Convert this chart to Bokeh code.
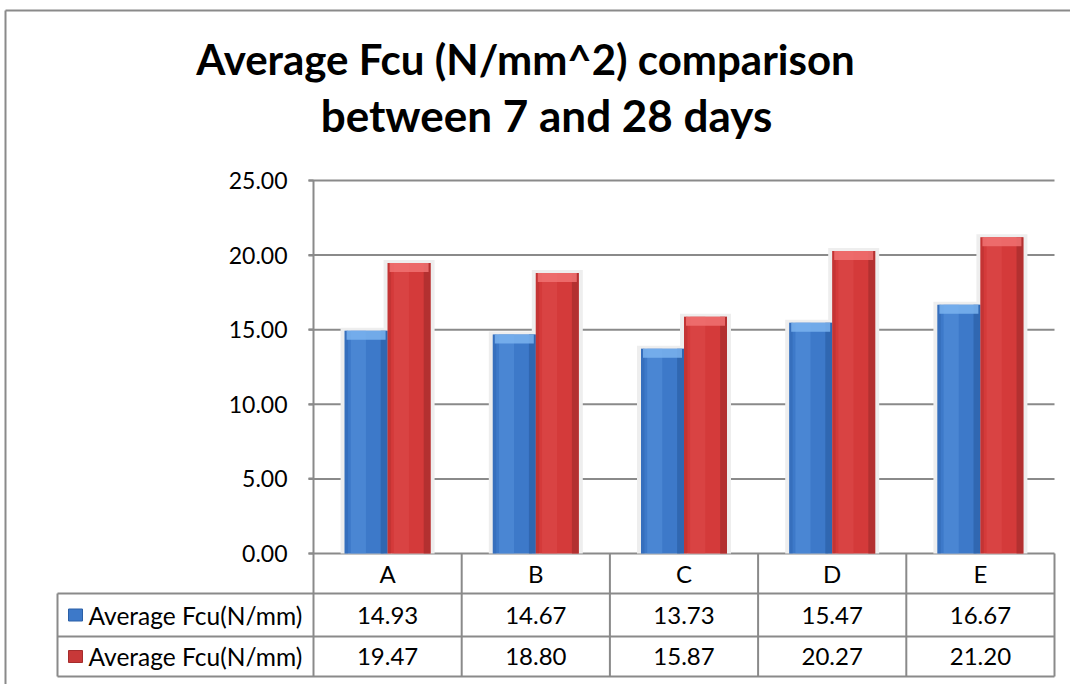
from bokeh.plotting import figure
from bokeh.models import Range1d, FixedTicker, NumeralTickFormatter
from bokeh.core.properties import value
from bokeh.embed import file_html
from bokeh.resources import INLINE

# ---- data ----
categories = ["A", "B", "C", "D", "E"]
fcu_7 = [14.93, 14.67, 13.73, 15.47, 16.67]
fcu_28 = [19.47, 18.80, 15.87, 20.27, 21.20]
series_labels = ["Average Fcu(N/mm)", "Average Fcu(N/mm)"]
y_ticks = [0, 5, 10, 15, 20, 25]
title_lines = ["Average Fcu (N/mm^2) comparison", "between 7 and 28 days"]

# ---- layout (pixels) ----
W, H = 1070, 684
AX_PX = 313.0      # y-axis / first column left
COL_PX = 148.2     # width of one category column
ZERO_PX = 553.0    # y of value 0
UNIT_PX = 14.92    # pixels per unit
FONT = "Lato"
GRAY = "#8a8a8a"

def xd(px):
    return (px - AX_PX) / COL_PX

def yd(py):
    return (ZERO_PX - py) / UNIT_PX

p = figure(width=W, height=H, output_backend="svg", toolbar_location=None,
           x_range=Range1d(xd(0), xd(W)), y_range=Range1d(yd(H), yd(0)),
           min_border=0, outline_line_color=None)
p.min_border_left = p.min_border_right = p.min_border_top = p.min_border_bottom = 0
p.background_fill_color = "white"
p.border_fill_color = "white"
p.xaxis.visible = False
p.grid.visible = False

yax = p.yaxis[0]
yax.fixed_location = 0
yax.bounds = (0, 25)
yax.ticker = FixedTicker(ticks=y_ticks)
yax.formatter = NumeralTickFormatter(format="0.00")
yax.axis_line_color = GRAY
yax.axis_line_width = 2
yax.major_tick_line_color = GRAY
yax.major_tick_line_width = 2
yax.major_tick_out = 5
yax.major_tick_in = 0
yax.minor_tick_line_color = None
yax.major_label_standoff = 21
yax.major_label_text_font = FONT
yax.major_label_text_font_size = "23px"
yax.major_label_text_color = "black"

n = len(categories)
ncols = n

# gridlines
p.segment(x0=[xd(308)] * len(y_ticks), y0=y_ticks, x1=[ncols] * len(y_ticks), y1=y_ticks,
          line_color=GRAY, line_width=2)

# bars
xs = [i + 0.5 for i in range(n)]
BAR_W = 43 / COL_PX
OFF = BAR_W / 2
series = [
    (fcu_7, -OFF, "#3d79c9", "#5a96e0", "#2b5fa6", "#7ab3ee"),
    (fcu_28, OFF, "#d43a3a", "#e05050", "#a52c2c", "#f07272"),
]
for vals, off, base, light, dark, cap in series:
    bx = [x + off for x in xs]
    p.vbar(x=bx, width=BAR_W + 8 / COL_PX, bottom=0, top=[v + 3 / UNIT_PX for v in vals],
           fill_color="#eeeeee", line_color=None)
for vals, off, base, light, dark, cap in series:
    bx = [x + off for x in xs]
    p.vbar(x=bx, width=BAR_W, bottom=0, top=vals, fill_color=base, line_color=None)
    p.vbar(x=[x - 0.18 * BAR_W for x in bx], width=0.35 * BAR_W, bottom=0, top=vals,
           fill_color=light, fill_alpha=0.45, line_color=None)
    p.vbar(x=[x + 0.42 * BAR_W for x in bx], width=0.16 * BAR_W, bottom=0, top=vals,
           fill_color=dark, fill_alpha=0.7, line_color=None)
    p.vbar(x=[x - 0.46 * BAR_W for x in bx], width=0.08 * BAR_W, bottom=0, top=vals,
           fill_color=dark, fill_alpha=0.35, line_color=None)
    p.vbar(x=bx, width=BAR_W - 4 / COL_PX, bottom=[v - 9 / UNIT_PX for v in vals], top=vals,
           fill_color=cap, fill_alpha=0.85, line_color=None)

# data table
row_px = [553, 593, 636, 676]
TBL_LEFT = 57
hx0 = [xd(TBL_LEFT)] * 3
hy = [yd(r) for r in row_px[1:]]
p.segment(x0=hx0, y0=hy, x1=[ncols] * 3, y1=hy, line_color=GRAY, line_width=2)
p.segment(x0=list(range(ncols + 1)), y0=[yd(row_px[0])] * (ncols + 1),
          x1=list(range(ncols + 1)), y1=[yd(row_px[-1])] * (ncols + 1),
          line_color=GRAY, line_width=2)
p.segment(x0=[xd(TBL_LEFT)], y0=[yd(row_px[1])], x1=[xd(TBL_LEFT)], y1=[yd(row_px[-1])],
          line_color=GRAY, line_width=2)

row_c = [(row_px[i] + row_px[i + 1]) / 2 for i in range(3)]
txt = dict(text_font=value(FONT), text_font_size="24px", text_color="black",
           text_align="center", text_baseline="middle")
p.text(x=xs, y=[yd(row_c[0])] * n, text=categories, **txt)
p.text(x=xs, y=[yd(row_c[1])] * n, text=["%.2f" % v for v in fcu_7], **txt)
p.text(x=xs, y=[yd(row_c[2])] * n, text=["%.2f" % v for v in fcu_28], **txt)

# legend keys in table
p.rect(x=[xd(75)] * 2, y=[yd(row_c[1]), yd(row_c[2])], width=14 / COL_PX, height=12 / UNIT_PX,
       fill_color=["#3d79c9", "#c83838"], line_color=["#2b5fa6", "#a52c2c"], line_width=1)
p.text(x=[xd(88)] * 2, y=[yd(row_c[1]), yd(row_c[2])], text=series_labels,
       text_font=value(FONT), text_font_size="24.5px", text_color="black",
       text_align="left", text_baseline="middle")

# title
p.text(x=[xd(525)], y=[yd(58)], text=title_lines[:1],
       text_font=value(FONT), text_font_style="bold", text_font_size="42px",
       text_color="black", text_align="center", text_baseline="alphabetic")
p.text(x=[xd(546)], y=[yd(114)], text=title_lines[1:],
       text_font=value(FONT), text_font_style="bold", text_font_size="44px",
       text_color="black", text_align="center", text_baseline="alphabetic")

# outer chart border
p.segment(x0=[xd(5), xd(5)], y0=[yd(10), yd(10)], x1=[xd(5), xd(W)], y1=[yd(H), yd(10)],
          line_color=GRAY, line_width=2)

open("out.html", "w").write(file_html(p, INLINE))
